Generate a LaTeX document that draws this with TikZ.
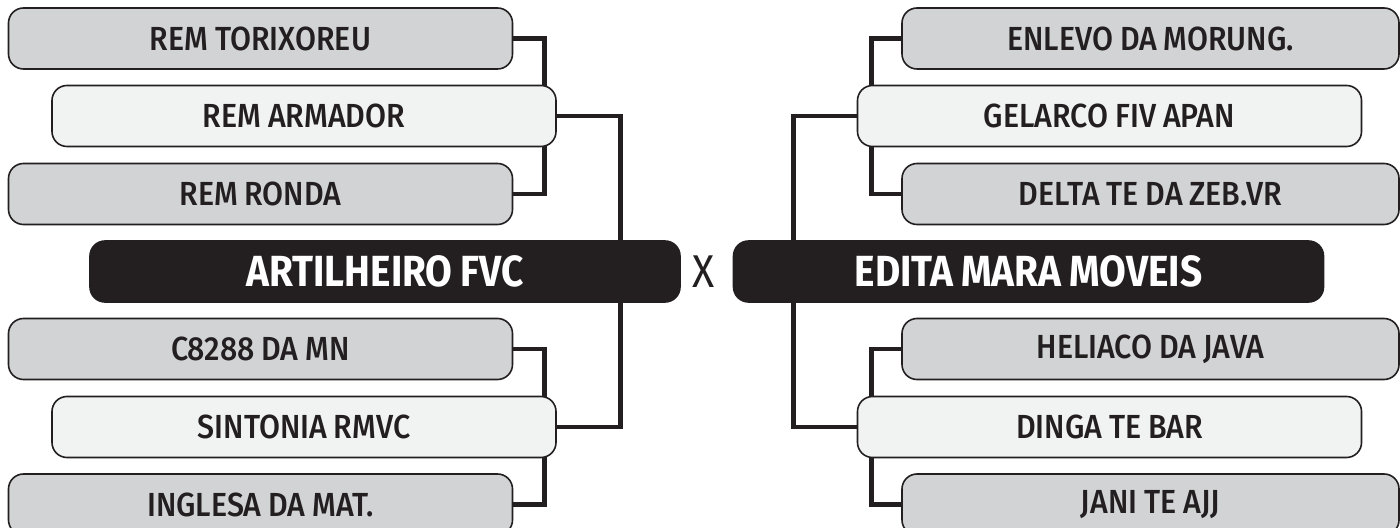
\documentclass[tikz,border=0pt]{standalone}
\usepackage{fontspec}
\setmainfont{Fira Sans}[FakeStretch=0.89, WordSpace=0.85]
\newfontfamily\teamfont{Fira Sans Medium}[FakeStretch=0.91, WordSpace=0.9]
\usepackage{tikz}
\usetikzlibrary{calc,backgrounds}
\definecolor{ink}{HTML}{231F20}
\definecolor{teamgray}{HTML}{D1D3D4}
\definecolor{seedgray}{HTML}{F1F2F2}
\tikzset{
  team/.style={draw=ink, fill=teamgray, line width=0.8pt, rounded corners=7.5pt,
    minimum width=252pt, minimum height=30.5pt, inner sep=0pt, text=ink,
    font=\teamfont\fontsize{16.7}{18}\selectfont},
  outer/.style={team, minimum width=248.5pt},
  seed/.style={team, fill=seedgray},
  final/.style={team, fill=ink, minimum width=295pt, text=white,
    font=\rmfamily\fontsize{21.8}{24}\selectfont\bfseries},
  link/.style={draw=ink, line width=2.4pt},
}

\begin{document}
\begin{tikzpicture}[x=0.5pt,y=-0.5pt]
  \useasboundingbox (0,0) rectangle (1400,528);

  % left bracket
  \node[team]  (r1)  at (260.5,38.5) {REM TORIXOREU};
  \node[seed]  (r2)  at (304,116)    {REM ARMADOR};
  \node[team]  (r3)  at (260.5,194)  {REM RONDA};
  \node[final] (art) at (385,271.5)  {ARTILHEIRO FVC};
  \node[team]  (s1)  at (260.5,349)  {C8288 DA MN};
  \node[seed]  (s2)  at (304,427)    {SINTONIA RMVC};
  \node[team]  (s3)  at (260.5,504.5) {INGLESA DA MAT.};

  % versus
  \node[text=ink, font=\fontsize{23}{25}\selectfont] (vs) at (704,272) {X};

  % right bracket
  \node[outer] (e1)  at (1150.5,38.5) {ENLEVO DA MORUNG.};
  \node[seed]  (e2)  at (1109.5,116)  {GELARCO FIV APAN};
  \node[outer] (e3)  at (1150.5,194)  {DELTA TE DA ZEB.VR};
  \node[final] (edi) at (1028.5,271.5) {EDITA MARA MOVEIS};
  \node[outer] (h1)  at (1150.5,349)  {HELIACO DA JAVA};
  \node[seed]  (h2)  at (1109.5,427)  {DINGA TE BAR};
  \node[outer] (h3)  at (1150.5,504.5) {JANI TE AJJ};

  % connectors
  \begin{pgfonlayer}{background}
    \draw[link] (r1.east) -- ++(31,0) |- (r3.east);
    \draw[link] (r2.east) -| ($(art.north east)+(-60,0)$);
    \draw[link] ($(art.south east)+(-60,0)$) |- (s2.east);
    \draw[link] (s1.east) -- ++(31,0) |- (s3.east);

    \draw[link] (e1.west) -- ++(-30,0) |- (e3.west);
    \draw[link] (e2.west) -| ($(edi.north west)+(61,0)$);
    \draw[link] ($(edi.south west)+(61,0)$) |- (h2.west);
    \draw[link] (h1.west) -- ++(-30,0) |- (h3.west);
  \end{pgfonlayer}

\end{tikzpicture}
\end{document}
